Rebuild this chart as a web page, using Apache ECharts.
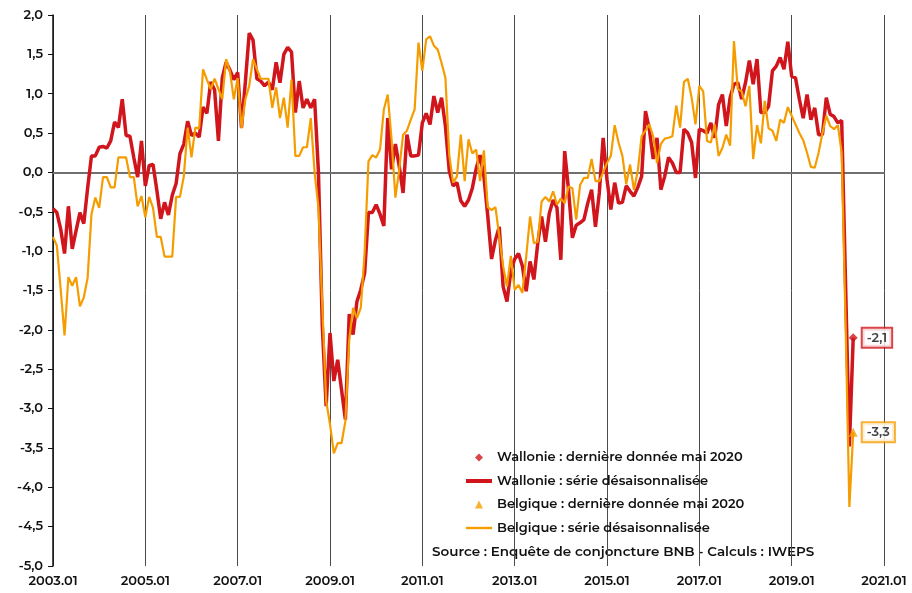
<!DOCTYPE html>
<html>
<head>
<meta charset="utf-8">
<script src="https://cdn.jsdelivr.net/npm/echarts@6/dist/echarts.min.js"></script>
<style>
  html, body { margin: 0; padding: 0; background: #fff; }
  #chart { width: 912px; height: 593px; }
</style>
</head>
<body>
<div id="chart"></div>
<script>
// months since 2003.01 (index 0) up to 2020.05 (index 208)
const tickLabels = ['2003.01', '2005.01', '2007.01', '2009.01', '2011.01', '2013.01', '2015.01', '2017.01', '2019.01', '2021.01']

const wallonie = [
  -0.46, -0.51, -0.72, -1.03, -0.43, -0.97, -0.74, -0.51, -0.65, -0.2, 0.21, 0.21,
  0.32, 0.33, 0.31, 0.4, 0.64, 0.57, 0.93, 0.47, 0.46, 0.19, -0.06, 0.4,
  -0.17, 0.09, 0.1, -0.23, -0.59, -0.38, -0.54, -0.29, -0.14, 0.24, 0.36, 0.65,
  0.47, 0.5, 0.45, 0.83, 0.75, 1.15, 1.05, 0.4, 1.2, 1.4, 1.3, 1.18,
  1.27, 0.57, 1.15, 1.77, 1.68, 1.19, 1.16, 1.1, 1.15, 1.05, 1.4, 1.14,
  1.5, 1.59, 1.53, 0.76, 1.16, 0.82, 0.93, 0.82, 0.93, 0.0, -1.95, -2.97,
  -2.04, -2.65, -2.38, -2.76, -3.14, -1.8, -2.06, -1.64, -1.49, -1.28, -0.51, -0.51,
  -0.41, -0.53, -0.68, 0.69, 0.04, 0.36, 0.08, -0.26, 0.48, 0.21, 0.21, 0.22,
  0.63, 0.75, 0.61, 0.97, 0.76, 0.95, 0.59, 0.02, -0.17, -0.13, -0.36, -0.43,
  -0.35, -0.2, 0.05, 0.22, -0.05, -0.55, -1.1, -0.86, -0.69, -1.45, -1.64, -1.26,
  -1.1, -1.03, -1.19, -1.51, -1.13, -1.36, -0.9, -0.56, -0.88, -0.52, -0.35, -0.45,
  -1.11, 0.27, -0.22, -0.83, -0.67, -0.64, -0.6, -0.39, -0.22, -0.69, -0.26, 0.44,
  -0.09, -0.47, -0.13, -0.39, -0.38, -0.17, -0.24, -0.3, -0.19, -0.05, 0.78, 0.55,
  0.17, 0.44, -0.22, -0.05, 0.19, 0.12, 0.0, 0.0, 0.55, 0.5, 0.38, -0.07,
  0.55, 0.53, 0.5, 0.63, 0.44, 0.86, 0.99, 0.59, 0.95, 1.12, 1.14, 0.93,
  1.14, 1.42, 1.12, 1.44, 0.76, 0.76, 0.84, 1.29, 1.35, 1.46, 1.31, 1.66,
  1.22, 1.2, 0.93, 0.69, 0.99, 0.67, 0.82, 0.48, 0.48, 0.95, 0.74, 0.71,
  0.63, 0.66, -1.4, -3.48, -2.1
]

const belgique = [
  -0.82, -0.93, -1.49, -2.07, -1.33, -1.44, -1.33, -1.7, -1.59, -1.34, -0.53, -0.32,
  -0.45, -0.06, -0.06, -0.19, -0.19, 0.19, 0.19, 0.19, -0.06, -0.06, -0.43, -0.3,
  -0.57, -0.31, -0.45, -0.82, -0.82, -1.07, -1.07, -1.07, -0.31, -0.31, -0.05, 0.57,
  0.19, 0.57, 0.56, 1.31, 1.18, 1.06, 1.19, 1.06, 0.93, 1.44, 1.28, 0.93,
  1.2, 0.56, 0.93, 1.1, 1.44, 1.31, 1.19, 1.19, 1.19, 0.82, 1.08, 0.69,
  0.95, 0.57, 1.18, 0.21, 0.21, 0.32, 0.32, 0.69, 0.0, -0.45, -1.7, -2.9,
  -3.2, -3.57, -3.44, -3.44, -3.16, -2.12, -1.72, -1.85, -1.72, -1.02, 0.14, 0.22,
  0.19, 0.29, 0.8, 0.99, 0.42, -0.32, 0.04, 0.48, 0.53, 0.67, 0.8, 1.65,
  1.29, 1.69, 1.73, 1.61, 1.56, 1.39, 1.2, 0.22, -0.13, -0.05, 0.48, -0.11,
  0.42, 0.24, 0.29, -0.11, 0.28, -0.44, -0.48, -0.44, -0.81, -1.19, -1.45, -1.06,
  -1.49, -1.43, -1.53, -1.07, -0.56, -0.9, -0.88, -0.37, -0.31, -0.37, -0.24, -0.41,
  -0.33, -0.39, -0.18, -0.2, -0.6, -0.16, -0.07, -0.07, 0.17, -0.11, -0.11, 0.0,
  0.12, 0.21, 0.6, 0.38, 0.21, -0.15, 0.1, -0.22, 0.02, 0.46, 0.53, 0.61,
  0.46, 0.12, 0.36, 0.43, 0.44, 0.46, 0.85, 0.57, 1.15, 1.19, 0.95, 0.61,
  1.1, 1.03, 0.4, 0.38, 0.61, 0.21, 0.31, 0.48, 0.34, 1.67, 1.06, 1.03,
  0.84, 1.1, 0.17, 0.6, 0.37, 0.91, 0.56, 0.53, 0.4, 0.67, 0.63, 0.83,
  0.72, 0.61, 0.5, 0.41, 0.25, 0.07, 0.06, 0.25, 0.5, 0.72, 0.59, 0.55,
  0.6, 0.25, -1.9, -4.25, -3.3
]

const names = [
  'Wallonie : dernière donnée mai 2020',
  'Wallonie : série désaisonnalisée',
  'Belgique : dernière donnée mai 2020',
  'Belgique : série désaisonnalisée'
]
const red = '#d0161c'
const orange = '#f59d00'
const font = 'Montserrat, "Open Sans", sans-serif'

const toPairs = arr => arr.map((v, i) => [i, v])
const lastOf = arr => [[arr.length - 1, arr[arr.length - 1]]]
const fr = v => v.toFixed(1).replace('.', ',')

const chart = echarts.init(document.getElementById('chart'))

const boxLabel = color => ({
  show: true,
  position: 'right',
  distance: 5,
  formatter: p => fr(p.value[1]),
  color: '#111',
  fontFamily: font,
  fontWeight: 600,
  fontSize: 13,
  backgroundColor: '#fff',
  borderColor: color,
  borderWidth: 2,
  padding: [3, 4, 2, 4]
})

const option = {
  animation: false,
  grid: { left: 53, right: 28, top: 15, bottom: 27 },
  xAxis: [
    {
      type: 'value', min: 0, max: 216, interval: 24,
      axisLine: { onZero: true, lineStyle: { color: '#707070', width: 2 } },
      axisTick: { show: false },
      axisLabel: { show: false },
      splitLine: { show: false }
    },
    {
      type: 'value', min: 0, max: 216, interval: 24, position: 'bottom',
      axisLine: { show: false },
      axisTick: { show: false },
      axisLabel: {
        color: '#111', fontFamily: font, fontWeight: 600, fontSize: 13, margin: 9,
        formatter: v => tickLabels[v / 24]
      },
      splitLine: { show: true, lineStyle: { color: '#4a4a4a', width: 1 } }
    }
  ],
  yAxis: {
    type: 'value', min: -5, max: 2, interval: 0.5,
    axisLine: { show: true, lineStyle: { color: '#111', width: 1.5 } },
    axisTick: { show: true, length: 5, lineStyle: { color: '#111' } },
    axisLabel: { color: '#111', fontFamily: font, fontWeight: 600, fontSize: 13, margin: 10, formatter: v => fr(v) },
    splitLine: { show: false }
  },
  legend: {
    orient: 'vertical',
    left: 461,
    top: 446,
    itemWidth: 26,
    itemHeight: 8,
    itemGap: 10.5,
    symbolKeepAspect: true,
    textStyle: { color: '#111', fontFamily: font, fontWeight: 600, fontSize: 13 },
    data: [
      { name: names[0], icon: 'path://M0,-1L1,0L0,1L-1,0Z', itemStyle: { color: red } },
      { name: names[1], icon: 'path://M0,0H26V4H0Z', itemStyle: { color: red } },
      { name: names[2], icon: 'path://M0,-1L1,1L-1,1Z', itemStyle: { color: orange } },
      { name: names[3], icon: 'path://M0,0H26V2.4H0Z', itemStyle: { color: orange } }
    ]
  },
  graphic: [{
    type: 'text', left: 432, top: 545,
    style: { text: 'Source : Enquête de conjoncture BNB - Calculs : IWEPS', fill: '#111', font: '600 13.5px ' + font }
  }],
  series: [
    {
      name: names[1], type: 'line', xAxisIndex: 1, data: toPairs(wallonie),
      symbol: 'none', lineStyle: { color: red, width: 3.5 }, itemStyle: { color: red }, z: 3
    },
    {
      name: names[3], type: 'line', xAxisIndex: 1, data: toPairs(belgique),
      symbol: 'none', lineStyle: { color: orange, width: 2.2 }, itemStyle: { color: orange }, z: 4
    },
    {
      name: names[0], type: 'scatter', xAxisIndex: 1, data: lastOf(wallonie),
      symbol: 'diamond', symbolSize: 9, itemStyle: { color: red }, label: boxLabel(red), z: 6
    },
    {
      name: names[2], type: 'scatter', xAxisIndex: 1, data: lastOf(belgique),
      symbol: 'triangle', symbolSize: 9, itemStyle: { color: orange }, label: boxLabel(orange), z: 6
    }
  ]
}
chart.setOption(option)
</script>
</body>
</html>
